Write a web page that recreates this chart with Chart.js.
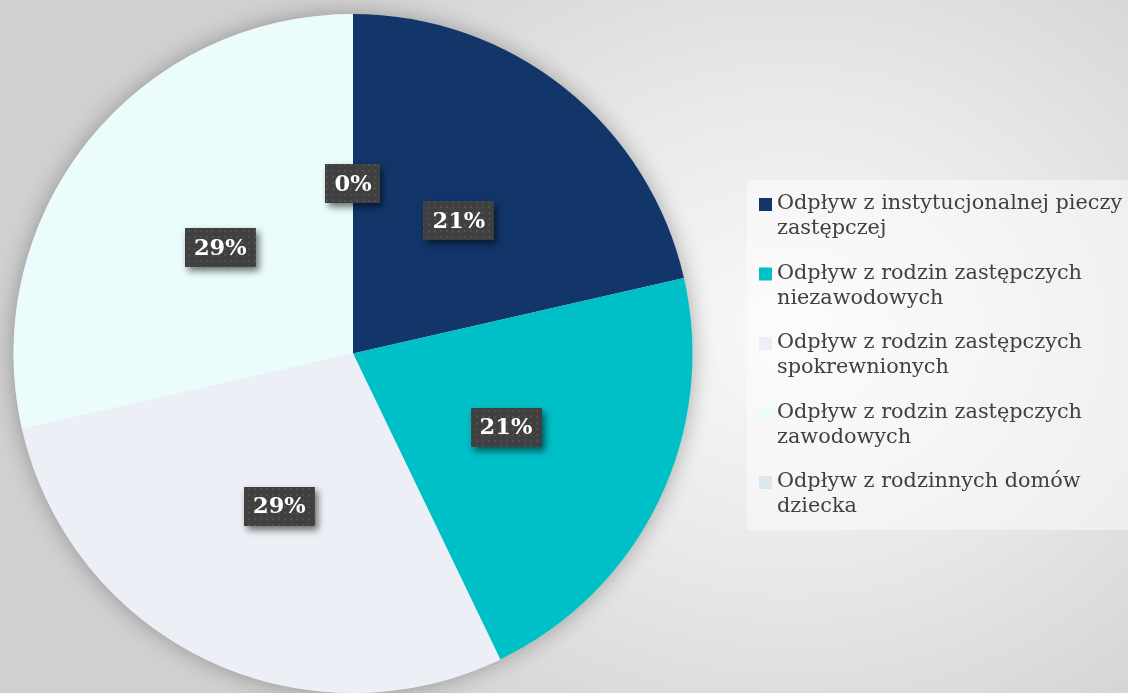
<!DOCTYPE html>
<html>
<head>
<meta charset="utf-8">
<script src="https://cdn.jsdelivr.net/npm/chart.js@4"></script>
<style>
  html, body { margin: 0; padding: 0; }
  body {
    width: 1128px; height: 693px; overflow: hidden;
    background: radial-gradient(ellipse 620px 520px at 790px 330px, #f9f9f9 0%, #e9e9e9 45%, #d0d0d0 100%);
  }
  #wrap { position: relative; width: 1128px; height: 693px; }
</style>
</head>
<body>
<div id="wrap"><canvas id="myChart" width="1128" height="693"></canvas></div>
<script>
// dane wykresu
const categories = [
  ['Odpływ z instytucjonalnej pieczy', 'zastępczej'],
  ['Odpływ z rodzin zastępczych', 'niezawodowych'],
  ['Odpływ z rodzin zastępczych', 'spokrewnionych'],
  ['Odpływ z rodzin zastępczych', 'zawodowych'],
  ['Odpływ z rodzinnych domów', 'dziecka']
];
const values = [3, 3, 4, 4, 0];
const colors = ['#12366a', '#00c0c7', '#eceff5', '#ebfcfd', '#dbe6ed'];

const labelFont = 'bold 22.5px "DejaVu Serif", Georgia, serif';
const legendFont = '20.8px "DejaVu Serif", Georgia, serif';

// cien pod kolem
const pieShadow = {
  id: 'pieShadow',
  beforeDatasetsDraw(chart) {
    const arc = chart.getDatasetMeta(0).data[0];
    const ctx = chart.ctx;
    ctx.save();
    ctx.shadowColor = 'rgba(0,0,0,0.3)';
    ctx.shadowBlur = 22;
    ctx.fillStyle = '#e0e0e0';
    ctx.beginPath();
    ctx.arc(arc.x, arc.y, arc.outerRadius, 0, Math.PI * 2);
    ctx.fill();
    ctx.restore();
  }
};

// etykiety procentowe w ciemnych ramkach
const pctLabels = {
  id: 'pctLabels',
  afterDatasetsDraw(chart) {
    const ctx = chart.ctx;
    const total = values.reduce((a, b) => a + b, 0);
    const pc = document.createElement('canvas');
    pc.width = 6; pc.height = 6;
    const p = pc.getContext('2d');
    p.fillStyle = '#404040'; p.fillRect(0, 0, 6, 6);
    p.fillStyle = '#4f4f4f'; p.fillRect(2, 2, 2, 2);
    const pattern = ctx.createPattern(pc, 'repeat');

    chart.getDatasetMeta(0).data.forEach((el, i) => {
      const pos = el.tooltipPosition();
      const txt = Math.round(values[i] / total * 100) + '%';
      ctx.save();
      ctx.font = labelFont;
      const w = ctx.measureText(txt).width + 18;
      const h = 39;
      const x = Math.round(pos.x - w / 2), y = Math.round(pos.y - h / 2);
      ctx.shadowColor = 'rgba(0,0,0,0.55)';
      ctx.shadowBlur = 7;
      ctx.shadowOffsetX = 3;
      ctx.shadowOffsetY = 4;
      ctx.fillStyle = '#404040';
      ctx.fillRect(x, y, w, h);
      ctx.shadowColor = 'transparent';
      ctx.fillStyle = pattern;
      ctx.fillRect(x, y, w, h);
      ctx.fillStyle = '#ffffff';
      ctx.textAlign = 'center';
      ctx.textBaseline = 'middle';
      ctx.fillText(txt, pos.x, pos.y + 1);
      ctx.restore();
    });
  }
};

// legenda po prawej
const sideLegend = {
  id: 'sideLegend',
  afterDraw(chart) {
    const ctx = chart.ctx;
    ctx.save();
    ctx.fillStyle = 'rgba(255,255,255,0.45)';
    ctx.fillRect(747, 180, 381, 350);
    ctx.font = legendFont;
    ctx.textBaseline = 'middle';
    let y = 204;
    categories.forEach((lines, i) => {
      ctx.fillStyle = colors[i];
      ctx.fillRect(759, y - 6, 13, 13);
      ctx.fillStyle = '#404040';
      lines.forEach((ln, k) => ctx.fillText(ln, 777, y + k * 25));
      y += 69.5;
    });
    ctx.restore();
  }
};

const ctx = document.getElementById('myChart').getContext('2d');
const myChart = new Chart(ctx, {
  type: 'pie',
  data: {
    labels: categories,
    datasets: [{
      data: values,
      backgroundColor: colors,
      borderWidth: 0
    }]
  },
  options: {
    responsive: false,
    animation: false,
    layout: { padding: { left: 12, right: 434, top: 14, bottom: 0 } },
    plugins: {
      legend: { display: false },
      tooltip: { enabled: false }
    }
  },
  plugins: [pieShadow, pctLabels, sideLegend]
});
</script>
</body>
</html>
